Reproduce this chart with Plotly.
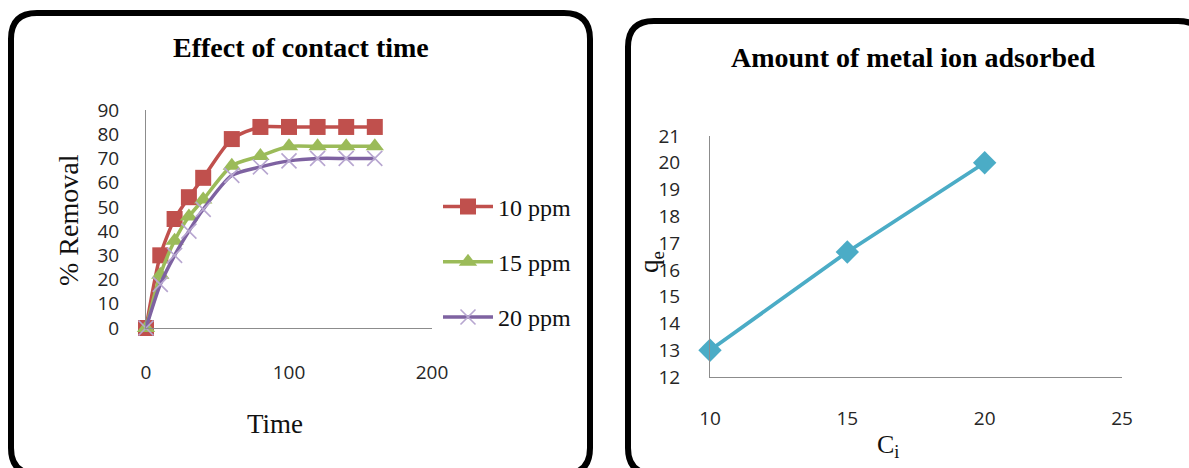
import plotly.graph_objects as go

# ---------------- data ----------------
time_min = [0, 10, 20, 30, 40, 60, 80, 100, 120, 140, 160]
removal_10ppm = [0, 30, 45, 54, 62, 78, 83, 83, 83, 83, 83]
removal_15ppm = [0, 22, 36, 46, 53, 67, 71, 75, 75, 75, 75]
removal_20ppm = [0, 18, 30, 40, 49, 63, 66.5, 69, 70, 70, 70]
series_names = ["10 ppm", "15 ppm", "20 ppm"]

ci = [10, 15, 20]
qe = [13, 16.67, 20]

W, H = 1189, 468

def px(x):
    return x / W

def py(y):
    return 1 - y / H

fig = go.Figure()

colors = ["#C0504D", "#9BBB59", "#7E62A1"]
symbols = ["square", "triangle-up", "x-thin"]
sizes = [16, 16, 15]
for i, (name, vals) in enumerate(zip(series_names, [removal_10ppm, removal_15ppm, removal_20ppm])):
    marker = dict(symbol=symbols[i], size=sizes[i], color=colors[i])
    if symbols[i] == "x-thin":
        marker = dict(symbol="x-thin", size=sizes[i], color="#B7A6D0",
                      line=dict(color="#B7A6D0", width=1.6))
    fig.add_trace(go.Scatter(
        x=time_min, y=vals, name=name, mode="lines+markers",
        line=dict(color=colors[i], width=3.5, shape="spline", smoothing=0.7),
        marker=marker, cliponaxis=False, legendgroup=name,
        xaxis="x", yaxis="y"))

fig.add_trace(go.Scatter(
    x=ci, y=qe, mode="lines+markers", showlegend=False,
    line=dict(color="#4BACC6", width=3.8),
    marker=dict(symbol="diamond", size=18, color="#4BACC6"),
    cliponaxis=False, xaxis="x2", yaxis="y2"))

tickfont = dict(family="Open Sans", size=19, color="#262626")
axis_common = dict(showline=True, linecolor="#8C8C8C", linewidth=1, showgrid=False,
                   zeroline=False, ticks="", tickfont=tickfont)

fig.update_layout(
    width=W, height=H,
    margin=dict(l=0, r=0, t=0, b=0, autoexpand=False),
    paper_bgcolor="white", plot_bgcolor="white",
    xaxis=dict(domain=[px(146), px(432)], range=[0, 200], tickvals=[0, 100, 200],
               anchor="y", ticklabelstandoff=27, **axis_common),
    yaxis=dict(domain=[py(328), py(110)], range=[0, 90], tickvals=list(range(0, 91, 10)),
               anchor="x", ticklabelstandoff=22, **axis_common),
    xaxis2=dict(domain=[px(710), px(1122)], range=[10, 25], tickvals=[10, 15, 20, 25],
                anchor="y2", ticklabelstandoff=24, **axis_common),
    yaxis2=dict(domain=[py(377), py(136)], range=[12, 21], tickvals=list(range(12, 22)),
                anchor="x2", ticklabelstandoff=25, **axis_common),
    legend=dict(x=px(438), y=py(262), xanchor="left", yanchor="middle",
                font=dict(family="Liberation Serif", size=24, color="#111111"),
                tracegroupgap=21, itemwidth=50, bgcolor="rgba(0,0,0,0)"),
    showlegend=True,
)

serif = "Liberation Serif"
annotations = [
    dict(text="<b>Effect of contact time</b>", x=px(301), y=py(48),
         font=dict(family=serif, size=28, color="#000000")),
    dict(text="<b>Amount of metal ion adsorbed</b>", x=px(913), y=py(57),
         font=dict(family=serif, size=28, color="#000000")),
    dict(text="% Removal", x=px(68), y=py(220), textangle=-90,
         font=dict(family=serif, size=28, color="#111111")),
    dict(text="Time", x=px(275), y=py(424),
         font=dict(family=serif, size=27, color="#111111")),
    dict(text="q<sub>e</sub>", x=px(651), y=py(262), textangle=-90,
         font=dict(family=serif, size=27, color="#111111")),
    dict(text="C<sub>i</sub>", x=px(888), y=py(446),
         font=dict(family=serif, size=26, color="#111111")),
]
for a in annotations:
    a.update(xref="paper", yref="paper", showarrow=False, xanchor="center", yanchor="middle")
fig.update_layout(annotations=annotations)

def rounded_rect(x0, y0, x1, y1, r):
    rx, ry = r / W, r / H
    X0, X1 = px(x0), px(x1)
    Y0, Y1 = py(y0), py(y1)  # Y0 top, Y1 bottom (paper)
    return (f"M {X0+rx},{Y0} L {X1-rx},{Y0} Q {X1},{Y0} {X1},{Y0-ry} "
            f"L {X1},{Y1+ry} Q {X1},{Y1} {X1-rx},{Y1} "
            f"L {X0+rx},{Y1} Q {X0},{Y1} {X0},{Y1+ry} "
            f"L {X0},{Y0-ry} Q {X0},{Y0} {X0+rx},{Y0} Z")

fig.update_layout(shapes=[
    dict(type="path", path=rounded_rect(11, 13, 590, 474, 26), xref="paper", yref="paper",
         line=dict(color="black", width=6)),
    dict(type="path", path=rounded_rect(628, 21, 1204, 474, 26), xref="paper", yref="paper",
         line=dict(color="black", width=6)),
])

fig.write_html("out.html", config={"displayModeBar": False},
               post_script="document.body.style.margin='0';document.body.style.overflow='hidden';")
